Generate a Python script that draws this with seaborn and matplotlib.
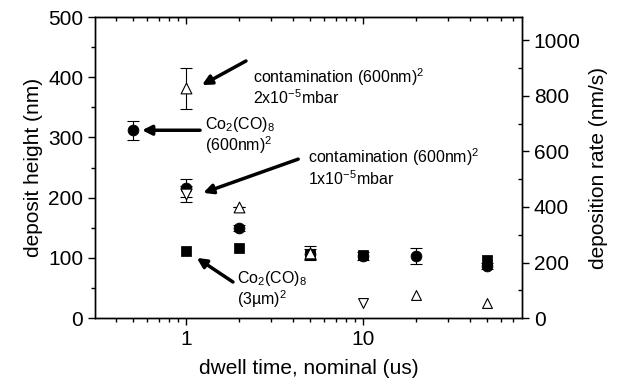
import matplotlib
matplotlib.use("Agg")
import matplotlib.pyplot as plt
import seaborn as sns
from matplotlib.ticker import LogLocator, MultipleLocator, NullFormatter, FixedLocator

# ===============================
# Data
# ===============================
# Co2(CO)8, (600nm)^2 -- filled circles
circ_x = [0.5, 1, 2, 5, 10, 20, 50]
circ_y = [312, 216, 149, 106, 103, 103, 86]
circ_err = [16, 15, 5, 8, 7, 13, 5]

# Co2(CO)8, (3um)^2 -- filled squares
sq_x = [1, 2, 5, 10, 50]
sq_y = [111, 116, 107, 105, 96]

# contamination 2x10^-5 mbar -- open up-triangles
up_x = [1, 2, 5]
up_y = [382, 184, 108]
up_err = [34, 0, 12]

# contamination 1x10^-5 mbar -- open down-triangles
down_x = [1]
down_y = [206]
down_err = [13]

# deposition rate (right axis)
rate_up_x = [20, 50]
rate_up_y = [83, 54]
rate_down_x = [10]
rate_down_y = [54]

xticks = [1, 10]
xtick_labels = ["1", "10"]

sns.set_style("ticks")
plt.rcParams["font.family"] = ["Liberation Sans", "DejaVu Sans"]
plt.rcParams["mathtext.fontset"] = "custom"
plt.rcParams["mathtext.rm"] = "Liberation Sans"
plt.rcParams["mathtext.it"] = "Liberation Sans"
for k in ["text.color", "axes.labelcolor", "xtick.color", "ytick.color", "axes.edgecolor"]:
    plt.rcParams[k] = "black"

fig = plt.figure(figsize=(6.17, 3.87), dpi=100)
ax = fig.add_axes([0.154, 0.178, 0.692, 0.778])
ax2 = ax.twinx()

# ===============================
# Plot
# ===============================
ebar = dict(fmt="none", ecolor="k", elinewidth=0.8, capsize=4, capthick=0.8, zorder=2)
ax.errorbar(circ_x, circ_y, yerr=circ_err, **ebar)
ax.errorbar(up_x, up_y, yerr=up_err, **ebar)
ax.errorbar(down_x, down_y, yerr=down_err, **ebar)

sns.scatterplot(x=sq_x, y=sq_y, ax=ax, marker="s", s=45, color="k",
                edgecolor="k", zorder=3)
sns.scatterplot(x=circ_x, y=circ_y, ax=ax, marker="o", s=60, color="k",
                edgecolor="k", zorder=3)
sns.scatterplot(x=up_x, y=up_y, ax=ax, marker="^", s=60, color="white",
                edgecolor="k", linewidth=0.8, zorder=4)
sns.scatterplot(x=down_x, y=down_y, ax=ax, marker="v", s=60, color="white",
                edgecolor="k", linewidth=0.8, zorder=4)
sns.scatterplot(x=rate_up_x, y=rate_up_y, ax=ax2, marker="^", s=50,
                color="white", edgecolor="k", linewidth=0.8, zorder=4)
sns.scatterplot(x=rate_down_x, y=rate_down_y, ax=ax2, marker="v", s=50,
                color="white", edgecolor="k", linewidth=0.8, zorder=4)

# ===============================
# Axes
# ===============================
ax.set_xscale("log")
ax.set_xlim(0.306, 79)
ax.set_ylim(0, 500)
ax2.set_ylim(0, 1083)

ax.xaxis.set_major_locator(FixedLocator(xticks))
ax.set_xticklabels(xtick_labels)
ax.xaxis.set_minor_locator(LogLocator(base=10, subs=range(2, 10)))
ax.xaxis.set_minor_formatter(NullFormatter())
ax.yaxis.set_major_locator(MultipleLocator(100))
ax.yaxis.set_minor_locator(MultipleLocator(50))
ax2.yaxis.set_major_locator(MultipleLocator(200))
ax2.yaxis.set_minor_locator(MultipleLocator(100))

ax.tick_params(axis="both", which="major", labelsize=15, direction="out",
               length=5, width=1)
ax.tick_params(axis="both", which="minor", direction="out", length=3, width=1)
ax.tick_params(axis="x", which="both", top=False)

# top axis: ticks pointing inward, no labels
top = ax.secondary_xaxis("top")
top.set_xticks(xticks)
top.set_xticklabels([])
top.xaxis.set_minor_locator(LogLocator(base=10, subs=range(2, 10)))
top.xaxis.set_minor_formatter(NullFormatter())
top.tick_params(which="major", direction="in", length=5, width=1)
top.tick_params(which="minor", direction="in", length=3, width=1)

ax2.tick_params(axis="y", which="major", labelsize=15, direction="out",
                length=5, width=1)
ax2.tick_params(axis="y", which="minor", direction="in", length=3, width=1)

for a in (ax, ax2):
    for sp in a.spines.values():
        sp.set_visible(True)
        sp.set_linewidth(1)
        sp.set_color("k")

ax.set_xlabel("dwell time, nominal (us)", fontsize=15, labelpad=7)
ax.set_ylabel("deposit height (nm)", fontsize=15)
ax2.set_ylabel("deposition rate (nm/s)", fontsize=15, labelpad=6)

# ===============================
# Annotations
# ===============================
arrow = dict(arrowstyle="-|>", color="k", lw=2.5, mutation_scale=14,
             shrinkA=0, shrinkB=0)
fs = 11.5

ax.annotate("", xy=(1.23, 387), xytext=(2.18, 427), arrowprops=arrow)
ax.text(2.39, 400, r"contamination (600nm)$^{2}$", fontsize=fs, va="center")
ax.text(2.39, 366, r"2x10$^{-5}$mbar", fontsize=fs, va="center")

ax.annotate("", xy=(0.564, 312), xytext=(1.20, 312), arrowprops=arrow)
ax.text(1.28, 322, r"Co$_{2}$(CO)$_{8}$", fontsize=fs, va="center")
ax.text(1.28, 287, r"(600nm)$^{2}$", fontsize=fs, va="center")

ax.annotate("", xy=(1.25, 208), xytext=(4.30, 264), arrowprops=arrow)
ax.text(4.89, 267, r"contamination (600nm)$^{2}$", fontsize=fs, va="center")
ax.text(4.89, 232, r"1x10$^{-5}$mbar", fontsize=fs, va="center")

ax.annotate("", xy=(1.15, 100), xytext=(1.84, 60), arrowprops=arrow)
ax.text(1.94, 66, r"Co$_{2}$(CO)$_{8}$", fontsize=fs, va="center")
ax.text(1.94, 31, r"(3µm)$^{2}$", fontsize=fs, va="center")

fig.savefig("out.png", dpi=100)
